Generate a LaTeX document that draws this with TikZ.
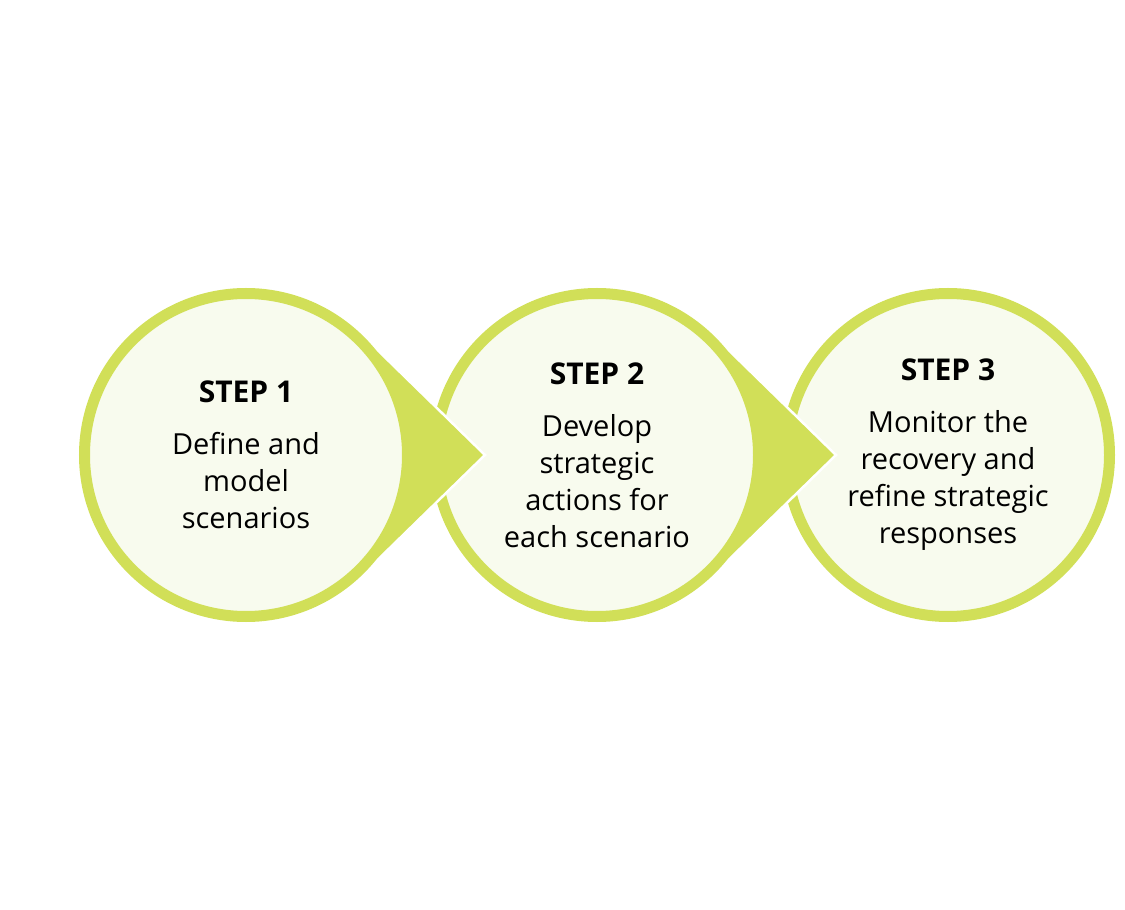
\documentclass[tikz,border=0pt]{standalone}
\usepackage{fontspec}
\setmainfont{Open Sans}
\usetikzlibrary{positioning,calc}
\definecolor{stepgreen}{RGB}{209,223,88}
\definecolor{steplight}{RGB}{248,251,238}

\begin{document}
\begin{tikzpicture}[x=1pt,y=1pt,
  stepcircle/.style={circle,draw=stepgreen,fill=steplight,line width=11pt,minimum size=323pt,inner sep=0pt,outer sep=0pt,align=center,font=\fontsize{29}{37}\selectfont},
  pointer/.style={fill=stepgreen,draw=white,line width=2.5pt,line join=miter}]
\useasboundingbox (-246,-455) rectangle (879,455);
\coordinate (cA) at (0,0);
\coordinate[right=351pt of cA] (cB);
\coordinate[right=351pt of cB] (cC);
\coordinate[right=239pt of cA] (tipA);
\coordinate[right=239pt of cB] (tipB);
% step 3
\node[stepcircle] (C) at (cC) {{\bfseries\fontsize{30}{37}\selectfont STEP 3}\\[15pt]Monitor the\\recovery and\\refine strategic\\responses};
% step 2
\path[pointer] (cB) -- ($(cB)+(45.7:167)$) -- (tipB) -- ($(cB)+(-45.7:167)$) -- cycle;
\node[stepcircle] (B) at (cB) {{\bfseries\fontsize{30}{37}\selectfont STEP 2}\\[15pt]Develop\\strategic\\actions for\\each scenario};
% step 1
\path[pointer] (cA) -- ($(cA)+(45.7:167)$) -- (tipA) -- ($(cA)+(-45.7:167)$) -- cycle;
\node[stepcircle] (A) at (cA) {{\bfseries\fontsize{30}{37}\selectfont STEP 1}\\[15pt]Define and\\model\\scenarios};
\end{tikzpicture}
\end{document}
